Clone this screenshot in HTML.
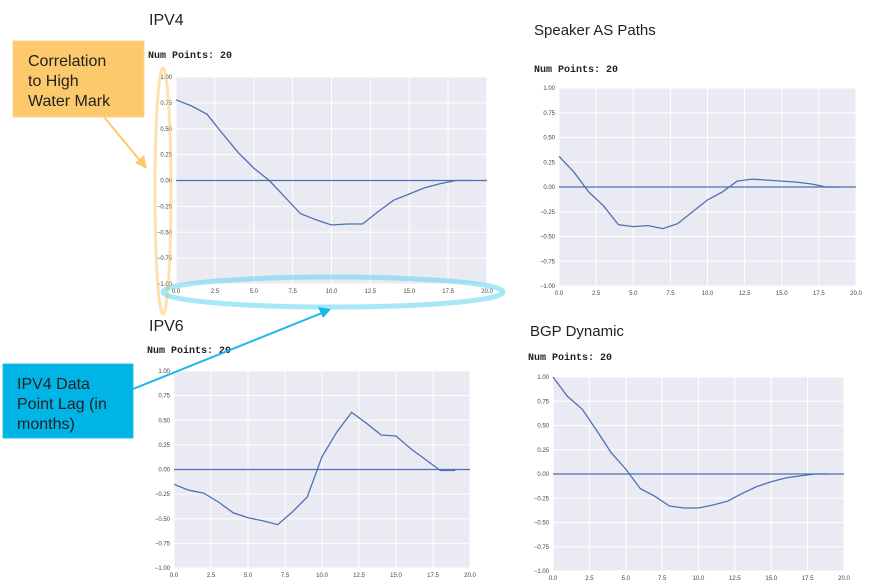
<!DOCTYPE html>
<html><head><meta charset="utf-8">
<style>
html,body{margin:0;padding:0;background:#fff;width:877px;height:585px;overflow:hidden}
svg{display:block}
.t{font-family:"Liberation Sans",sans-serif;fill:#222}
.n{font-family:"Liberation Mono",monospace;font-weight:bold;font-size:10px;fill:#222}
.tk{font-family:"Liberation Sans",sans-serif;font-size:6px;fill:#444}
</style></head><body>
<svg id="s" width="877" height="585" xmlns="http://www.w3.org/2000/svg">
<text class="t" x="149" y="25" font-size="16">IPV4</text>
<text class="n" x="148" y="58">Num Points: 20</text>
<text class="t" x="534" y="35" font-size="15">Speaker AS Paths</text>
<text class="n" x="534" y="72">Num Points: 20</text>
<text class="t" x="149" y="331" font-size="16">IPV6</text>
<text class="n" x="147" y="353">Num Points: 20</text>
<text class="t" x="530" y="336" font-size="15">BGP Dynamic</text>
<text class="n" x="528" y="360">Num Points: 20</text>
<g id="charts"></g>
<ellipse cx="163" cy="191" rx="8" ry="123" fill="none" stroke="#fdc96d" stroke-opacity="0.55" stroke-width="3"/>
<ellipse cx="333" cy="292" rx="170" ry="15" fill="none" stroke="#5fd3f2" stroke-opacity="0.55" stroke-width="5"/>
<line x1="104" y1="117" x2="142" y2="163" stroke="#fdc96d" stroke-width="2"/>
<polygon points="147,169 135,163 144,155" fill="#fdc96d"/>
<line x1="133" y1="389" x2="322" y2="313" stroke="#1ab8e8" stroke-width="2"/>
<polygon points="331,309 318,307 323,318" fill="#1ab8e8"/>
<rect x="13" y="41" width="131" height="76" fill="#fdc96d" stroke="#fcd593"/>
<text class="t" x="28" y="66" font-size="16">Correlation</text>
<text class="t" x="28" y="86" font-size="16">to High</text>
<text class="t" x="28" y="106" font-size="16">Water Mark</text>
<rect x="3" y="364" width="130" height="74" fill="#00b5e6" stroke="#22c0ee"/>
<text class="t" x="17" y="389" font-size="16">IPV4 Data</text>
<text class="t" x="17" y="409" font-size="16">Point Lag (in</text>
<text class="t" x="17" y="429" font-size="16">months)</text>
</svg>
<script>
var C=[
{x0:176,x1:487,y0:77,y1:284,d:[0.78,0.72,0.64,0.45,0.27,0.12,0.0,-0.16,-0.32,-0.38,-0.43,-0.42,-0.42,-0.3,-0.19,-0.13,-0.07,-0.03,0.0,0.0]},
{x0:559,x1:856,y0:88,y1:286,d:[0.31,0.15,-0.05,-0.19,-0.38,-0.40,-0.39,-0.42,-0.37,-0.25,-0.13,-0.05,0.06,0.08,0.07,0.06,0.05,0.03,0.0,0.0]},
{x0:174,x1:470,y0:371,y1:568,d:[-0.15,-0.21,-0.24,-0.33,-0.44,-0.49,-0.52,-0.56,-0.43,-0.28,0.13,0.38,0.58,0.47,0.35,0.34,0.21,0.1,-0.01,-0.01]},
{x0:553,x1:844,y0:377,y1:571,d:[1.0,0.8,0.67,0.45,0.22,0.05,-0.15,-0.23,-0.33,-0.35,-0.35,-0.32,-0.28,-0.2,-0.13,-0.08,-0.04,-0.02,0.0,0.0]}];
var h='';
C.forEach(function(c){
 var W=c.x1-c.x0,H=c.y1-c.y0;
 function X(v){return c.x0+v/20*W}
 function Y(v){return c.y0+(1-v)/2*H}
 h+='<rect x="'+c.x0+'" y="'+c.y0+'" width="'+W+'" height="'+H+'" fill="#eaeaf2"/>';
 for(var i=0;i<=8;i++){var x=X(i*2.5);h+='<line x1="'+x+'" y1="'+c.y0+'" x2="'+x+'" y2="'+c.y1+'" stroke="#fff" stroke-width="1"/>';
  h+='<text class="tk" x="'+x+'" y="'+(c.y1+9)+'" text-anchor="middle">'+(i*2.5).toFixed(1)+'</text>';}
 for(var j=0;j<=8;j++){var v=1-j*0.25,y=Y(v);h+='<line x1="'+c.x0+'" y1="'+y+'" x2="'+c.x1+'" y2="'+y+'" stroke="#fff" stroke-width="1"/>';
  h+='<text class="tk" x="'+(c.x0-4)+'" y="'+(y+2)+'" text-anchor="end">'+(v<0?'\u2212':'')+Math.abs(v).toFixed(2)+'</text>';}
 h+='<line x1="'+c.x0+'" y1="'+Y(0)+'" x2="'+c.x1+'" y2="'+Y(0)+'" stroke="#4c72b0" stroke-width="1.3"/>';
 var p=c.d.map(function(v,i){return X(i).toFixed(1)+','+Y(v).toFixed(1)}).join(' ');
 h+='<polyline points="'+p+'" fill="none" stroke="#4c72b0" stroke-width="1.3"/>';
});
document.getElementById('charts').innerHTML=h;
</script>
</body></html>
